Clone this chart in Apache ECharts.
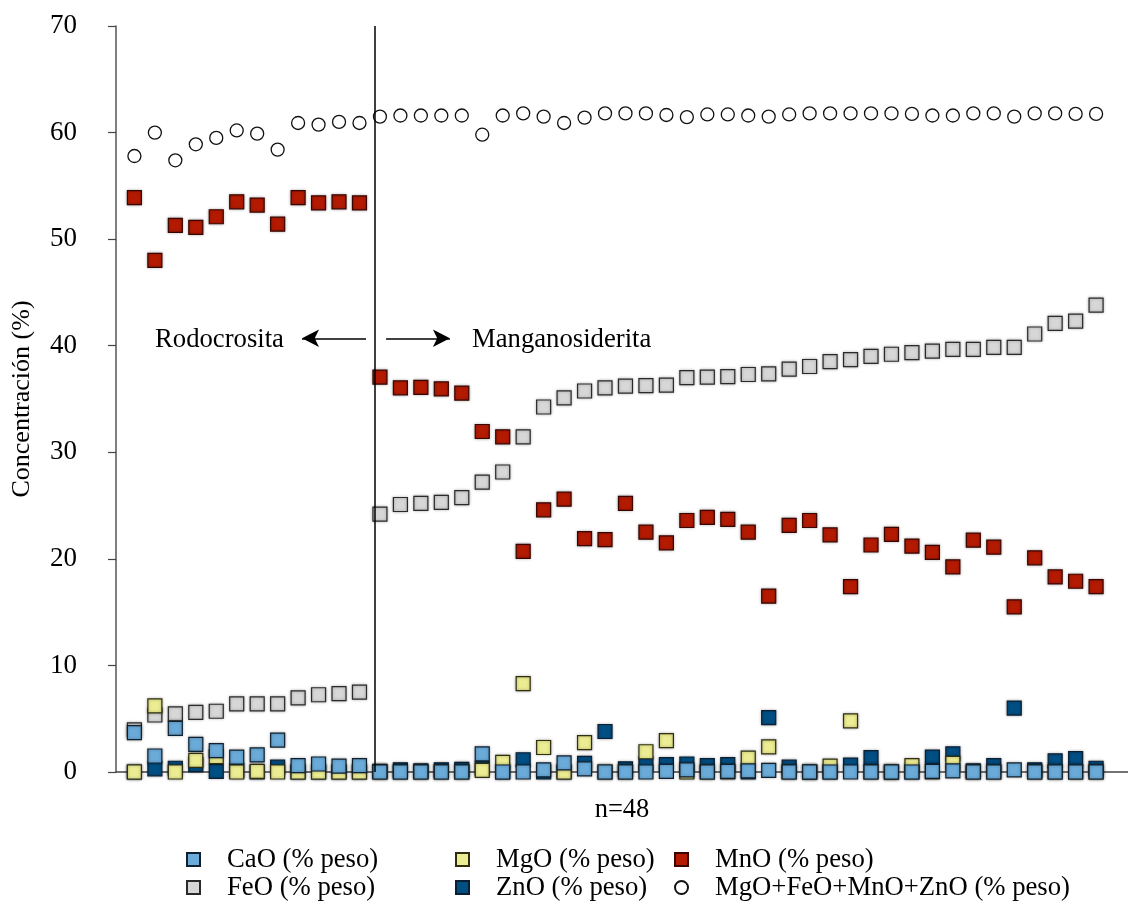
<!DOCTYPE html>
<html>
<head>
<meta charset="utf-8">
<script src="https://cdn.jsdelivr.net/npm/echarts@6/dist/echarts.min.js"></script>
<style>
  html, body { margin: 0; padding: 0; background: #fff; }
  #chart { width: 1128px; height: 902px; }
</style>
</head>
<body>
<div id="chart"></div>
<script>
// Analysis number (1..48) for each carbonate grain
const samples = Array.from({ length: 48 }, (_, i) => i + 1);

// Oxide contents, % peso
const caO = [3.7, 1.5, 4.1, 2.6, 2.0, 1.4, 1.6, 3.0, 0.6, 0.75, 0.55, 0.6,
  0, 0, 0, 0, 0, 1.7, 0, 0, 0.2, 0.85, 0.3, 0, 0, 0, 0.05, 0.2, 0, 0.05, 0.1,
  0.15, 0, 0, 0, 0, 0, 0, 0, 0.05, 0.1, 0, 0, 0.2, 0, 0, 0, 0];
const mgO = [0, 6.2, 0, 1.1, 1.45, 0, 0.05, 0, 0, 0, 0, 0,
  0, 0, 0, 0, 0, 0.15, 0.9, 8.3, 2.3, 0, 2.75, 0, 0, 1.9, 2.95, 0, 0, 0, 1.3,
  2.35, 0, 0, 0.55, 4.8, 0, 0, 0.6, 0, 0.8, 0, 0, -0.1, 0, 0, 0, 0];
const mnO = [53.9, 48.0, 51.3, 51.1, 52.1, 53.5, 53.2, 51.4, 53.9, 53.4, 53.5, 53.4,
  37.05, 36.05, 36.1, 35.95, 35.55, 31.95, 31.45, 20.7, 24.6, 25.6, 21.9, 21.8, 25.2,
  22.5, 21.5, 23.6, 23.9, 23.7, 22.5, 16.5, 23.15, 23.6, 22.25, 17.4, 21.3, 22.3, 21.2,
  20.6, 19.25, 21.75, 21.1, 15.5, 20.1, 18.3, 17.9, 17.4];
const feO = [3.95, 5.35, 5.45, 5.6, 5.7, 6.4, 6.4, 6.4, 6.95, 7.25, 7.35, 7.5,
  24.2, 25.1, 25.2, 25.3, 25.75, 27.2, 28.15, 31.45, 34.25, 35.1, 35.75, 36.05, 36.2,
  36.25, 36.3, 37.0, 37.05, 37.1, 37.3, 37.35, 37.8, 38.05, 38.5, 38.7, 39.0, 39.2,
  39.35, 39.5, 39.65, 39.65, 39.85, 39.85, 41.1, 42.1, 42.3, 43.8];
const znO = [0, 0.3, 0.35, 0.7, 0.05, 0.15, 0, 0.45, 0, 0, 0, 0,
  0.05, 0.2, 0.1, 0.2, 0.25, 0.35, 0, 1.15, 0, 0, 0.8, 3.8, 0.3, 0.75, 0.7, 0.75,
  0.6, 0.7, 0, 5.1, 0.45, 0, 0, 0.65, 1.35, 0, 0, 1.4, 1.7, 0.1, 0.6, 6.0, 0.2,
  1.05, 1.25, 0.35];
const total = [57.8, 60.0, 57.4, 58.9, 59.5, 60.2, 59.9, 58.4, 60.9, 60.75, 61.0, 60.9,
  61.5, 61.6, 61.6, 61.6, 61.6, 59.8, 61.6, 61.8, 61.5, 60.9, 61.4, 61.8, 61.8, 61.8,
  61.65, 61.45, 61.7, 61.7, 61.6, 61.5, 61.7, 61.8, 61.8, 61.8, 61.8, 61.8, 61.75,
  61.6, 61.6, 61.8, 61.8, 61.5, 61.8, 61.8, 61.75, 61.75];

// Y axis ticks
const yTicks = [0, 10, 20, 30, 40, 50, 60, 70];

// Boundary between the rhodochrosite and manganosiderite groups
const boundaryX = 12.75;

const names = {
  caO: 'CaO (% peso)',
  mgO: 'MgO (% peso)',
  mnO: 'MnO (% peso)',
  feO: 'FeO (% peso)',
  znO: 'ZnO (% peso)',
  total: 'MgO+FeO+MnO+ZnO (% peso)'
};

const serif = '"Liberation Serif", "Times New Roman", serif';

function pairs(values) {
  return samples.map((s, i) => [s, values[i]]);
}

function squareSeries(name, values, fill, border) {
  return {
    name: name,
    type: 'scatter',
    symbol: 'rect',
    symbolSize: 14,
    data: pairs(values),
    itemStyle: {
      color: fill,
      borderColor: border,
      borderWidth: 1.2,
      opacity: 1,
      shadowBlur: 3,
      shadowColor: 'rgba(0,0,0,0.35)'
    },
    emphasis: { disabled: true }
  };
}

function legendAt(name, left, top) {
  return {
    data: [name],
    left: left,
    top: top,
    itemWidth: 13,
    itemHeight: 13,
    padding: 0,
    selectedMode: false,
    textStyle: {
      fontFamily: serif,
      fontSize: 26.7,
      color: '#000',
      padding: [0, 0, 0, 22]
    }
  };
}

const chart = echarts.init(document.getElementById('chart'), null, { renderer: 'canvas' });

const option = {
  backgroundColor: '#fff',
  animation: false,
  grid: { left: 116, right: 0, top: 26, bottom: 130, containLabel: false },
  xAxis: {
    type: 'value',
    min: 0.1,
    max: 49.56,
    name: 'n=48',
    nameLocation: 'middle',
    nameGap: 25,
    nameTextStyle: { fontFamily: serif, fontSize: 26.5, color: '#000' },
    axisLine: { show: true, onZero: false, lineStyle: { color: '#444', width: 1.5 } },
    axisTick: { show: false },
    axisLabel: { show: false },
    splitLine: { show: false }
  },
  yAxis: {
    type: 'value',
    min: yTicks[0],
    max: yTicks[yTicks.length - 1],
    interval: 10,
    name: 'Concentración (%)',
    nameLocation: 'middle',
    nameGap: 81,
    nameTextStyle: { fontFamily: serif, fontSize: 26, color: '#000' },
    axisLine: { show: true, lineStyle: { color: '#555', width: 1.5 } },
    axisTick: { show: true, inside: false, length: 8, lineStyle: { color: '#444', width: 1.2 } },
    axisLabel: { margin: 39, fontFamily: serif, fontSize: 27, color: '#000' },
    splitLine: { show: false }
  },
  legend: [
    legendAt(names.caO, 186, 846),
    legendAt(names.mgO, 455, 846),
    legendAt(names.mnO, 674, 846),
    legendAt(names.feO, 186, 874),
    legendAt(names.znO, 455, 874),
    legendAt(names.total, 674, 874)
  ],
  graphic: [
    {
      type: 'text', left: 155, top: 326,
      style: { text: 'Rodocrosita', font: '26.7px ' + serif, fill: '#000' }
    },
    {
      type: 'text', left: 472, top: 326,
      style: { text: 'Manganosiderita', font: '26.7px ' + serif, fill: '#000' }
    }
  ],
  series: [
    {
      name: names.total,
      type: 'scatter',
      symbol: 'circle',
      symbolSize: 13,
      data: pairs(total),
      itemStyle: { color: '#fff', borderColor: '#111', borderWidth: 1.3, opacity: 1 },
      emphasis: { disabled: true },
      markLine: {
        silent: true,
        animation: false,
        label: { show: false },
        data: [
          [
            { coord: [boundaryX, yTicks[0]], symbol: 'none' },
            { coord: [boundaryX, yTicks[yTicks.length - 1]], symbol: 'none' }
          ],
          [
            { coord: [12.32, 40.7], symbol: 'none' },
            { coord: [9.19, 40.7], symbol: 'arrow', symbolSize: [13, 17] }
          ],
          [
            { coord: [13.3, 40.7], symbol: 'none' },
            { coord: [16.42, 40.7], symbol: 'arrow', symbolSize: [13, 17] }
          ]
        ],
        lineStyle: { color: '#000', width: 1.5, type: 'solid' }
      }
    },
    squareSeries(names.feO, feO, '#d7d7d7', '#2a2a2a'),
    squareSeries(names.mnO, mnO, '#b41a00', '#3a0500'),
    squareSeries(names.znO, znO, '#004f84', '#0b1f33'),
    squareSeries(names.mgO, mgO, '#ecec92', '#2f2f10'),
    squareSeries(names.caO, caO, '#6aabd9', '#10202e')
  ]
};

chart.setOption(option);
</script>
</body>
</html>
